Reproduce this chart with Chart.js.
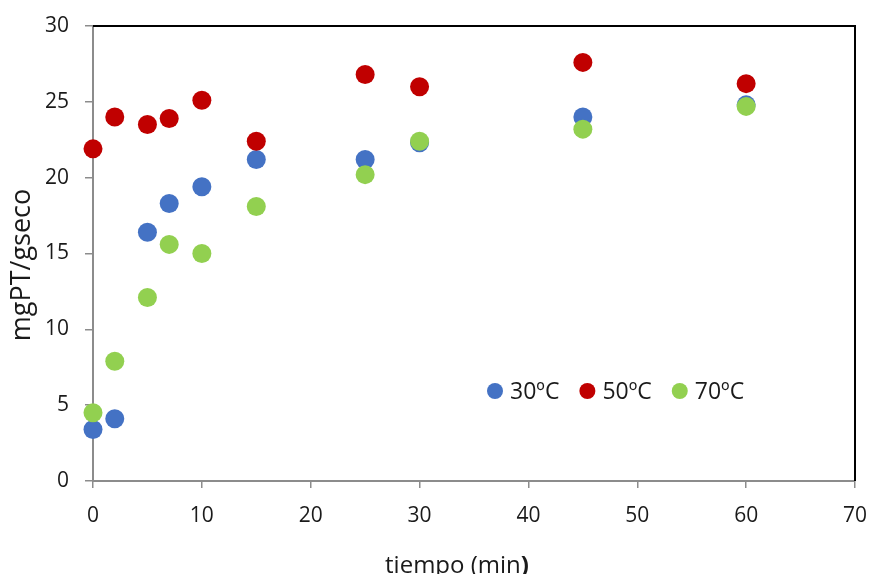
<!DOCTYPE html>
<html>
<head>
<meta charset="utf-8">
<script src="https://cdn.jsdelivr.net/npm/chart.js@4/dist/chart.umd.min.js"></script>
<style>
  html, body { margin: 0; padding: 0; background: #fff; }
  #wrap { width: 871px; height: 574px; position: relative; }
</style>
</head>
<body>
<div id="wrap"><canvas id="chart"></canvas></div>
<script>
// Datos
const tiempo = [0, 2, 5, 7, 10, 15, 25, 30, 45, 60];
const serie30 = [3.4, 4.1, 16.4, 18.3, 19.4, 21.2, 21.2, 22.3, 24.0, 24.8];
const serie50 = [21.9, 24.0, 23.5, 23.9, 25.1, 22.4, 26.8, 26.0, 27.6, 26.2];
const serie70 = [4.5, 7.9, 12.1, 15.6, 15.0, 18.1, 20.2, 22.4, 23.2, 24.7];
const etiquetas = ['30ºC', '50ºC', '70ºC'];
const colores = ['#4472C4', '#C00000', '#92D050'];

const FONT = "'Open Sans', sans-serif";
const TEXT = '#1a1a1a';
const AXIS_GRAY = '#8c8c8c';

function puntos(ys) {
    return tiempo.map((t, i) => ({ x: t, y: ys[i] }));
}

// Marco negro arriba y a la derecha
const marco = {
    id: 'marco',
    beforeDatasetsDraw(chart) {
        const { ctx, chartArea: a } = chart;
        ctx.save();
        ctx.strokeStyle = '#000';
        ctx.lineWidth = 2;
        ctx.beginPath();
        ctx.moveTo(a.left, a.top);
        ctx.lineTo(a.right, a.top);
        ctx.lineTo(a.right, a.bottom);
        ctx.stroke();
        ctx.restore();
    }
};

// Títulos de los ejes (el paréntesis final va en negrita, como en el original)
const titulos = {
    id: 'titulos',
    afterDraw(chart) {
        const { ctx } = chart;
        ctx.save();
        ctx.fillStyle = TEXT;
        ctx.textBaseline = 'middle';
        // eje x
        const normal = '24px ' + FONT;
        const negrita = 'bold 24px ' + FONT;
        ctx.font = normal;
        const w1 = ctx.measureText('tiempo (min').width;
        ctx.font = negrita;
        const w2 = ctx.measureText(')').width;
        let x = 457 - (w1 + w2) / 2;
        ctx.textAlign = 'left';
        ctx.font = normal;
        ctx.fillText('tiempo (min', x, 566);
        ctx.font = negrita;
        ctx.fillText(')', x + w1, 566);
        // eje y
        ctx.translate(22, 265);
        ctx.rotate(-Math.PI / 2);
        ctx.textAlign = 'center';
        ctx.font = '27px ' + FONT;
        ctx.fillText('mgPT/gseco', 0, 0);
        ctx.restore();
    }
};

// Leyenda dentro del área del gráfico
const leyenda = {
    id: 'leyenda',
    afterDraw(chart) {
        const { ctx } = chart;
        ctx.save();
        ctx.font = '23px ' + FONT;
        ctx.textBaseline = 'middle';
        let x = 495;
        const y = 391;
        chart.data.datasets.forEach(ds => {
            ctx.fillStyle = ds.backgroundColor;
            ctx.beginPath();
            ctx.arc(x, y, 8, 0, Math.PI * 2);
            ctx.fill();
            ctx.fillStyle = TEXT;
            ctx.fillText(ds.label, x + 15, y + 1);
            x += 15 + ctx.measureText(ds.label).width + 28;
        });
        ctx.restore();
    }
};

const series = [serie30, serie50, serie70];
const orden = [2, 1, 0];

new Chart(document.getElementById('chart'), {
    type: 'scatter',
    data: {
        datasets: series.map((s, i) => ({
            label: etiquetas[i],
            data: puntos(s),
            backgroundColor: colores[i],
            borderColor: colores[i],
            borderWidth: 0,
            pointRadius: 9.5,
            pointHoverRadius: 9.5,
            order: orden[i],
            clip: false,
        })),
    },
    options: {
        responsive: true,
        maintainAspectRatio: false,
        animation: false,
        layout: { padding: { left: 0, right: 16, top: 26, bottom: 0 } },
        plugins: {
            legend: { display: false },
            tooltip: { enabled: false },
        },
        scales: {
            x: {
                type: 'linear',
                min: 0,
                max: 70,
                ticks: { stepSize: 10, color: TEXT, font: { family: FONT, size: 21 }, padding: 15, maxRotation: 0 },
                grid: { drawOnChartArea: false, drawTicks: true, tickLength: 7, color: AXIS_GRAY, lineWidth: 1.5 },
                border: { color: AXIS_GRAY, width: 2 },
                afterFit(scale) {
                    scale.height = 93;
                    scale.paddingLeft = 0;
                    scale.paddingRight = 0;
                },
            },
            y: {
                min: 0,
                max: 30,
                ticks: { stepSize: 5, color: TEXT, font: { family: FONT, size: 21 }, padding: 16 },
                grid: { drawOnChartArea: false, drawTicks: true, tickLength: 8, color: AXIS_GRAY, lineWidth: 1.5 },
                border: { color: AXIS_GRAY, width: 2 },
                afterFit(scale) {
                    scale.width = 93;
                    scale.paddingTop = 0;
                    scale.paddingBottom = 0;
                },
            },
        },
    },
    plugins: [marco, titulos, leyenda],
});
</script>
</body>
</html>
